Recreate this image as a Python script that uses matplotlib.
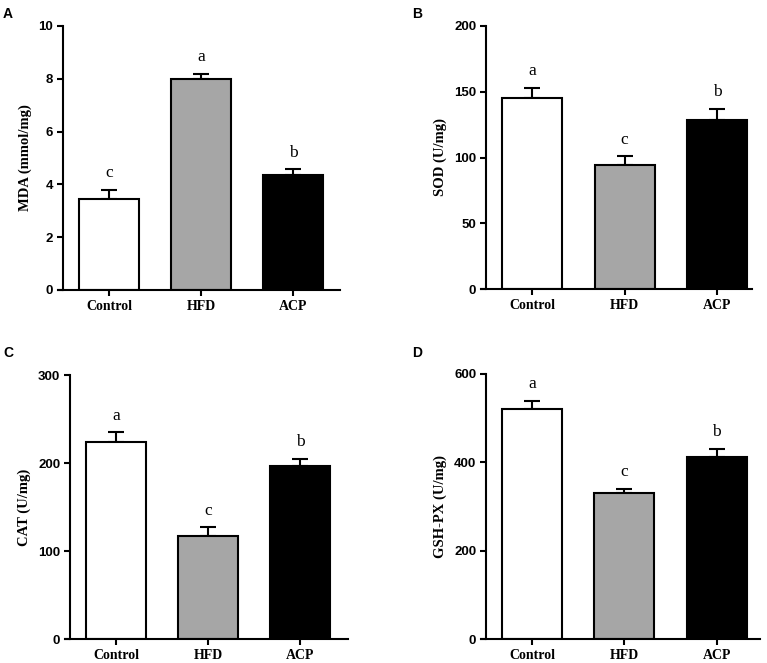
import numpy as np
import matplotlib
matplotlib.use("Agg")
import matplotlib.pyplot as plt

groups = ["Control", "HFD", "ACP"]
colors = ["white", "#a6a6a6", "black"]

mda = [3.45, 8.0, 4.35]
mda_err = [0.34, 0.2, 0.22]
sod = [145.5, 94.5, 128.5]
sod_err = [7.5, 6.5, 8.5]
cat = [223.5, 117.5, 196.5]
cat_err = [11.5, 9.5, 8.5]
gsh = [520, 330, 412]
gsh_err = [19, 10, 18.5]

letters_a = ["c", "a", "b"]
letters_b = ["a", "c", "b"]
letters_c = ["a", "c", "b"]
letters_d = ["a", "c", "b"]

W, H = 767, 663
fig = plt.figure(figsize=(W / 100, H / 100), dpi=100)

# (spine px, right px, top px, bottom px, x right limit)
panels = [
    ("A", mda, mda_err, letters_a, "MDA (mmol/mg)", 10, 2, (63, 340, 26, 290), 2.51),
    ("B", sod, sod_err, letters_b, "SOD (U/mg)", 200, 50, (486, 752, 26, 289), 2.38),
    ("C", cat, cat_err, letters_c, "CAT (U/mg)", 300, 100, (70, 348, 375, 639), 2.52),
    ("D", gsh, gsh_err, letters_d, "GSH-PX (U/mg)", 600, 200, (486, 760, 374, 639), 2.47),
]
tag_pos = {"A": (3, 7), "B": (412, 7), "C": (3, 346), "D": (412, 346)}

x = np.arange(len(groups))
ext = 5  # x axis runs a few px left of the y axis
for tag, vals, errs, lets, ylabel, ymax, ystep, (l, r, t, b), xr in panels:
    ax = fig.add_axes([(l - ext) / W, 1 - b / H, (r - l + ext) / W, (b - t) / H])
    ax.bar(x, vals, width=0.65, color=colors, edgecolor="black", linewidth=1.5, zorder=2)
    ax.errorbar(x, vals, yerr=[np.zeros(3), errs], fmt="none", ecolor="black",
                elinewidth=1.5, capsize=6, capthick=1.5, zorder=1)
    for xi, v, e, s in zip(x, vals, errs, lets):
        ax.annotate(s, (xi, v + e), xytext=(0, 9), textcoords="offset points",
                    ha="center", va="baseline", fontsize=12.5, family="Liberation Serif")
    unit = (r - l) / (xr + 0.5)
    ax.set_xlim(-0.5 - ext / unit, xr)
    ax.spines["left"].set_position(("data", -0.5))
    ax.set_ylim(0, ymax)
    ax.set_yticks(np.arange(0, ymax + 1e-9, ystep))
    ax.set_yticklabels([f"{v:g}" for v in np.arange(0, ymax + 1e-9, ystep)],
                       fontsize=9.5, fontweight="bold", family="Liberation Sans")
    ax.set_xticks(x)
    ax.set_xticklabels(groups, fontsize=10, fontweight="bold", family="Liberation Serif")
    ax.set_ylabel(ylabel, fontsize=10.5, fontweight="bold", family="Liberation Serif", labelpad=5)
    ax.spines["top"].set_visible(False)
    ax.spines["right"].set_visible(False)
    ax.spines["left"].set_linewidth(1.5)
    ax.spines["bottom"].set_linewidth(1.5)
    ax.tick_params(axis="both", direction="out", length=4, width=1.5, pad=3)
    px, py = tag_pos[tag]
    fig.text(px / W, 1 - py / H, tag, ha="left", va="top", fontsize=10,
             fontweight="bold", family="Liberation Sans")

fig.savefig("out.png", dpi=100)
